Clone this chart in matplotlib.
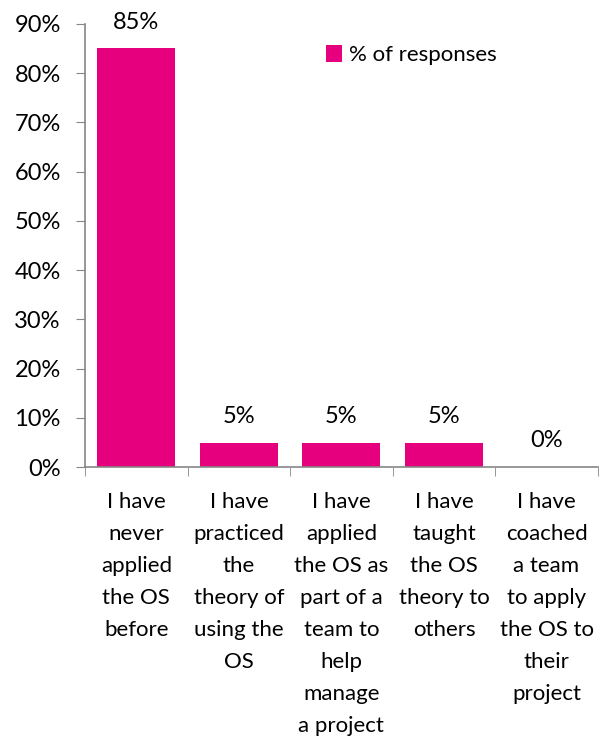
import numpy as np
import matplotlib.pyplot as plt

categories = ["I have\nnever\napplied\nthe OS\nbefore",
              "I have\npracticed\nthe\ntheory of\nusing the\nOS",
              "I have\napplied\nthe OS as\npart of a\nteam to\nhelp\nmanage\na project",
              "I have\ntaught\nthe OS\ntheory to\nothers",
              "I have\ncoached\na team\nto apply\nthe OS to\ntheir\nproject"]
values = [85, 5, 5, 5, 0]
yticks = [0, 10, 20, 30, 40, 50, 60, 70, 80, 90]
series_name = "% of responses"

plt.rcParams['font.family'] = ['Lato', 'DejaVu Sans']
fs = 16
fs_num = 17
pink = "#E6007E"
grey = "#868686"

fig = plt.figure(figsize=(5.99, 7.44), dpi=100)
ax = fig.add_axes([0.142, 0.372, 0.856, 0.596])

x = np.arange(len(values))
bars = ax.bar(x, values, width=0.76, color=pink, label=series_name)
for xi, v in zip(x, values):
    ax.annotate("%d%%" % v, (xi, v), xytext=(0, 19), textcoords="offset points",
                ha="center", va="center", fontsize=fs_num)

ax.set_xlim(-0.5, len(values) - 0.5)
ax.set_ylim(0, 90)
ax.set_yticks(yticks)
ax.set_yticklabels(["%d%%" % t for t in yticks], fontsize=fs_num)
ax.set_xticks(x)
ax.set_xticklabels(categories, fontsize=fs, linespacing=1.75, va="top")
ax.set_xticks(np.arange(len(values) + 1) - 0.5, minor=True)
ax.tick_params(axis="x", which="major", length=0, pad=18)
ax.tick_params(axis="x", which="minor", length=6.5, color=grey, direction="out")
ax.tick_params(axis="y", length=6.5, color=grey, direction="out", pad=11)

for s in ["top", "right"]:
    ax.spines[s].set_visible(False)
for s in ["left", "bottom"]:
    ax.spines[s].set_color(grey)
    ax.spines[s].set_linewidth(1.2)

ax.legend(loc="upper left", bbox_to_anchor=(0.43, 0.997), frameon=False,
          fontsize=fs, handlelength=0.75, handleheight=0.75, handletextpad=0.3)

fig.savefig("out.png", dpi=100)
